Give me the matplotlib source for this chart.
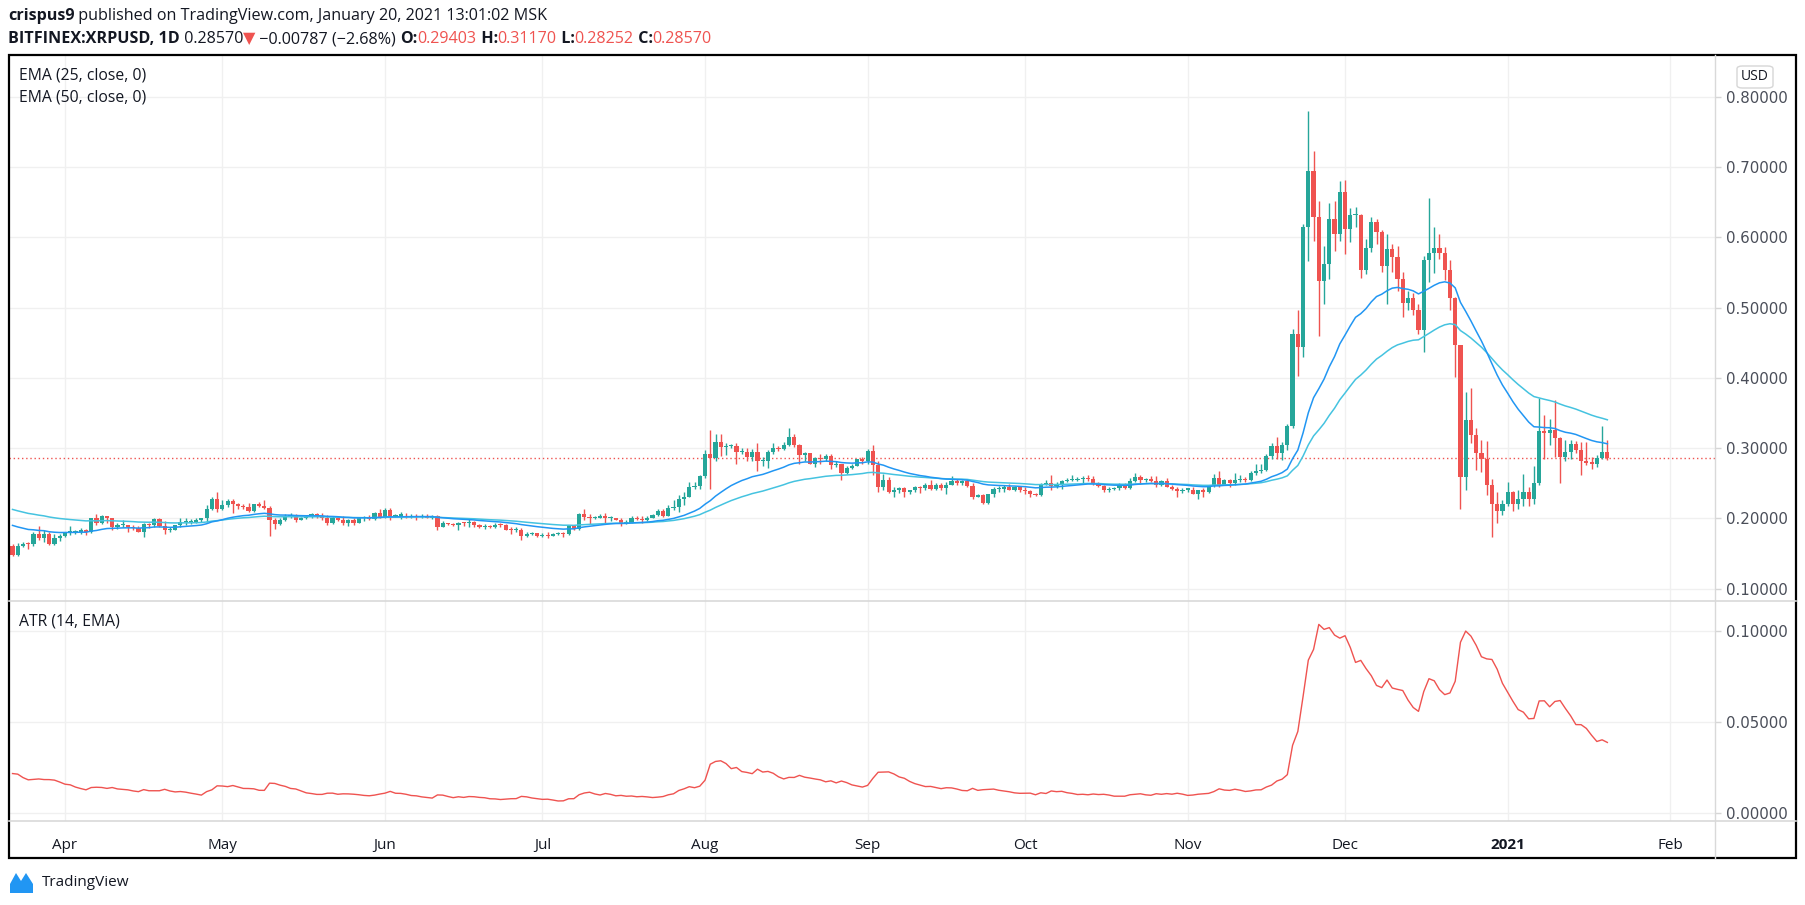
import numpy as np
import pandas as pd
import matplotlib
matplotlib.use('Agg')
import matplotlib.pyplot as plt
import matplotlib.dates as mdates
from matplotlib.patches import Rectangle, FancyBboxPatch, Polygon
from matplotlib.lines import Line2D

# BITFINEX:XRPUSD daily candles, 22 Mar 2020 - 20 Jan 2021
first_open = 0.160

close_mar = [0.148, 0.161, 0.164, 0.163, 0.178, 0.172, 0.178, 0.163, 0.172, 0.175]
high_mar = [0.164, 0.165, 0.166, 0.167, 0.180, 0.189, 0.183, 0.180, 0.178, 0.178]
low_mar = [0.147, 0.146, 0.159, 0.157, 0.160, 0.169, 0.167, 0.162, 0.162, 0.168]

close_apr = [0.180, 0.181, 0.181, 0.184, 0.180, 0.200, 0.194, 0.203, 0.200, 0.188,
             0.190, 0.191, 0.188, 0.186, 0.181, 0.192, 0.190, 0.199, 0.189, 0.183,
             0.184, 0.190, 0.195, 0.195, 0.195, 0.198, 0.200, 0.214, 0.227, 0.213]
high_apr = [0.181, 0.189, 0.184, 0.186, 0.185, 0.201, 0.206, 0.205, 0.204, 0.200,
            0.193, 0.198, 0.191, 0.191, 0.189, 0.194, 0.194, 0.200, 0.200, 0.196,
            0.187, 0.191, 0.201, 0.200, 0.199, 0.200, 0.201, 0.219, 0.231, 0.238]
low_apr = [0.173, 0.176, 0.178, 0.178, 0.177, 0.179, 0.191, 0.192, 0.194, 0.183,
           0.185, 0.187, 0.180, 0.183, 0.180, 0.174, 0.186, 0.188, 0.188, 0.178,
           0.181, 0.183, 0.188, 0.191, 0.192, 0.193, 0.195, 0.195, 0.212, 0.209]

close_may = [0.219, 0.224, 0.220, 0.217, 0.216, 0.211, 0.220, 0.218, 0.215, 0.197,
             0.192, 0.198, 0.203, 0.204, 0.198, 0.201, 0.202, 0.206, 0.203, 0.201,
             0.194, 0.201, 0.198, 0.193, 0.198, 0.194, 0.200, 0.202, 0.199, 0.207, 0.202]
high_may = [0.226, 0.228, 0.227, 0.222, 0.221, 0.222, 0.221, 0.223, 0.226, 0.217,
            0.200, 0.200, 0.206, 0.207, 0.206, 0.202, 0.203, 0.208, 0.208, 0.207,
            0.205, 0.203, 0.202, 0.203, 0.199, 0.200, 0.201, 0.203, 0.205, 0.209, 0.214]
low_may = [0.212, 0.216, 0.208, 0.213, 0.213, 0.209, 0.209, 0.216, 0.214, 0.175,
           0.185, 0.191, 0.196, 0.201, 0.195, 0.197, 0.199, 0.200, 0.201, 0.197,
           0.190, 0.192, 0.196, 0.191, 0.189, 0.191, 0.193, 0.196, 0.197, 0.197, 0.200]

close_jun = [0.212, 0.203, 0.204, 0.204, 0.202, 0.204, 0.202, 0.204, 0.201, 0.204,
             0.188, 0.194, 0.192, 0.191, 0.194, 0.193, 0.195, 0.191, 0.187, 0.189,
             0.187, 0.191, 0.190, 0.184, 0.183, 0.184, 0.175, 0.178, 0.179, 0.175]
high_jun = [0.215, 0.215, 0.206, 0.209, 0.207, 0.206, 0.206, 0.206, 0.206, 0.205,
            0.205, 0.196, 0.194, 0.193, 0.195, 0.195, 0.200, 0.196, 0.192, 0.192,
            0.190, 0.193, 0.193, 0.192, 0.187, 0.188, 0.186, 0.181, 0.180, 0.179]
low_jun = [0.201, 0.197, 0.202, 0.199, 0.200, 0.201, 0.198, 0.201, 0.200, 0.199,
           0.184, 0.187, 0.190, 0.189, 0.183, 0.189, 0.188, 0.188, 0.186, 0.185,
           0.186, 0.186, 0.188, 0.183, 0.178, 0.180, 0.169, 0.174, 0.176, 0.174]

close_jul = [0.177, 0.175, 0.178, 0.179, 0.178, 0.190, 0.185, 0.206, 0.202, 0.200,
             0.201, 0.203, 0.200, 0.201, 0.198, 0.194, 0.194, 0.201, 0.199, 0.197,
             0.201, 0.205, 0.211, 0.204, 0.215, 0.216, 0.227, 0.231, 0.245, 0.246, 0.260]
high_jul = [0.179, 0.180, 0.179, 0.180, 0.181, 0.191, 0.191, 0.208, 0.214, 0.206,
            0.203, 0.206, 0.208, 0.203, 0.201, 0.200, 0.198, 0.203, 0.203, 0.203,
            0.203, 0.206, 0.213, 0.213, 0.219, 0.226, 0.233, 0.238, 0.252, 0.252, 0.262]
low_jul = [0.174, 0.172, 0.175, 0.177, 0.174, 0.176, 0.183, 0.184, 0.197, 0.192,
           0.199, 0.200, 0.192, 0.196, 0.197, 0.189, 0.192, 0.193, 0.197, 0.193,
           0.196, 0.200, 0.203, 0.202, 0.203, 0.212, 0.209, 0.219, 0.230, 0.242, 0.242]

close_aug = [0.291, 0.286, 0.309, 0.301, 0.303, 0.303, 0.294, 0.295, 0.287, 0.294,
             0.281, 0.282, 0.295, 0.300, 0.299, 0.305, 0.316, 0.304, 0.290, 0.293,
             0.278, 0.286, 0.284, 0.289, 0.276, 0.277, 0.264, 0.272, 0.275, 0.284, 0.281]
high_aug = [0.297, 0.326, 0.320, 0.320, 0.307, 0.306, 0.307, 0.300, 0.300, 0.299,
            0.307, 0.287, 0.297, 0.307, 0.303, 0.308, 0.328, 0.320, 0.306, 0.295,
            0.293, 0.288, 0.292, 0.292, 0.291, 0.282, 0.278, 0.274, 0.277, 0.285, 0.287]
low_aug = [0.258, 0.242, 0.282, 0.289, 0.290, 0.300, 0.278, 0.292, 0.281, 0.282,
           0.267, 0.275, 0.272, 0.292, 0.296, 0.297, 0.303, 0.301, 0.278, 0.282,
           0.277, 0.273, 0.277, 0.282, 0.270, 0.273, 0.254, 0.263, 0.270, 0.274, 0.277]

close_sep = [0.296, 0.276, 0.245, 0.255, 0.238, 0.241, 0.243, 0.238, 0.240, 0.244,
             0.243, 0.248, 0.242, 0.247, 0.243, 0.248, 0.253, 0.250, 0.253, 0.246,
             0.230, 0.233, 0.222, 0.234, 0.242, 0.242, 0.244, 0.241, 0.244, 0.241]
high_sep = [0.299, 0.305, 0.282, 0.263, 0.259, 0.245, 0.245, 0.245, 0.241, 0.246,
            0.246, 0.250, 0.255, 0.250, 0.250, 0.252, 0.260, 0.256, 0.255, 0.255,
            0.250, 0.235, 0.235, 0.235, 0.245, 0.246, 0.247, 0.249, 0.246, 0.246]
low_sep = [0.278, 0.261, 0.238, 0.240, 0.236, 0.231, 0.236, 0.231, 0.235, 0.238,
           0.236, 0.241, 0.240, 0.240, 0.241, 0.235, 0.247, 0.247, 0.248, 0.244,
           0.228, 0.230, 0.220, 0.221, 0.231, 0.238, 0.238, 0.240, 0.239, 0.237]

close_oct = [0.239, 0.235, 0.233, 0.248, 0.251, 0.246, 0.249, 0.253, 0.254, 0.255,
             0.256, 0.258, 0.256, 0.249, 0.246, 0.240, 0.242, 0.243, 0.247, 0.243,
             0.253, 0.259, 0.255, 0.256, 0.253, 0.247, 0.253, 0.245, 0.242, 0.239, 0.241]
high_oct = [0.245, 0.241, 0.236, 0.250, 0.255, 0.261, 0.252, 0.255, 0.258, 0.261,
            0.259, 0.260, 0.261, 0.260, 0.252, 0.248, 0.244, 0.245, 0.250, 0.251,
            0.257, 0.264, 0.261, 0.258, 0.260, 0.260, 0.254, 0.257, 0.248, 0.245, 0.243]
low_oct = [0.234, 0.230, 0.232, 0.232, 0.247, 0.240, 0.243, 0.242, 0.252, 0.253,
           0.253, 0.249, 0.253, 0.247, 0.244, 0.237, 0.237, 0.240, 0.241, 0.242,
           0.242, 0.252, 0.249, 0.252, 0.252, 0.244, 0.246, 0.244, 0.240, 0.231, 0.236]

close_nov = [0.241, 0.235, 0.240, 0.238, 0.247, 0.258, 0.248, 0.254, 0.250, 0.254,
             0.256, 0.255, 0.265, 0.268, 0.269, 0.289, 0.303, 0.293, 0.304, 0.331,
             0.462, 0.444, 0.615, 0.694, 0.629, 0.538, 0.562, 0.626, 0.605, 0.664]
high_nov = [0.243, 0.245, 0.241, 0.243, 0.248, 0.263, 0.268, 0.256, 0.256, 0.265,
            0.261, 0.259, 0.267, 0.277, 0.277, 0.292, 0.307, 0.316, 0.308, 0.334,
            0.470, 0.496, 0.619, 0.780, 0.723, 0.652, 0.588, 0.649, 0.652, 0.680]
low_nov = [0.238, 0.234, 0.228, 0.231, 0.236, 0.245, 0.245, 0.248, 0.245, 0.248,
           0.252, 0.252, 0.253, 0.261, 0.264, 0.268, 0.285, 0.284, 0.283, 0.297,
           0.328, 0.402, 0.430, 0.566, 0.595, 0.459, 0.505, 0.541, 0.581, 0.595]

close_dec = [0.612, 0.631, 0.632, 0.554, 0.585, 0.622, 0.607, 0.559, 0.583, 0.572,
             0.541, 0.507, 0.514, 0.496, 0.468, 0.568, 0.577, 0.584, 0.577, 0.554,
             0.514, 0.446, 0.259, 0.340, 0.318, 0.293, 0.284, 0.247, 0.221, 0.210, 0.221]
high_dec = [0.682, 0.642, 0.643, 0.633, 0.598, 0.629, 0.626, 0.611, 0.605, 0.590,
            0.587, 0.550, 0.524, 0.520, 0.505, 0.574, 0.656, 0.614, 0.605, 0.586,
            0.568, 0.515, 0.446, 0.380, 0.386, 0.328, 0.311, 0.310, 0.256, 0.238, 0.226]
low_dec = [0.576, 0.593, 0.614, 0.542, 0.548, 0.579, 0.591, 0.550, 0.505, 0.550,
           0.524, 0.487, 0.496, 0.489, 0.463, 0.437, 0.536, 0.549, 0.569, 0.539,
           0.496, 0.401, 0.213, 0.240, 0.307, 0.269, 0.266, 0.233, 0.174, 0.194, 0.205]

close_jan = [0.238, 0.221, 0.227, 0.237, 0.227, 0.250, 0.324, 0.321, 0.326, 0.315,
             0.288, 0.295, 0.306, 0.297, 0.281, 0.279, 0.278, 0.286, 0.29403, 0.2857]
high_jan = [0.252, 0.239, 0.241, 0.263, 0.245, 0.274, 0.371, 0.347, 0.341, 0.368,
            0.316, 0.311, 0.311, 0.310, 0.309, 0.309, 0.288, 0.290, 0.331, 0.3117]
low_jan = [0.218, 0.210, 0.214, 0.217, 0.217, 0.221, 0.247, 0.285, 0.304, 0.288,
           0.251, 0.282, 0.284, 0.293, 0.261, 0.276, 0.270, 0.273, 0.285, 0.2825]

# indicator values on the first visible day (history before it is off-chart)
ema25_start = 0.190
ema50_start = 0.2127
atr_start = 0.0215

month_ticks = ['2020-04-01', '2020-05-01', '2020-06-01', '2020-07-01', '2020-08-01', '2020-09-01',
               '2020-10-01', '2020-11-01', '2020-12-01', '2021-01-01', '2021-02-01']
month_labels = ['Apr', 'May', 'Jun', 'Jul', 'Aug', 'Sep', 'Oct', 'Nov', 'Dec', '2021', 'Feb']
price_ticks = [0.1, 0.2, 0.3, 0.4, 0.5, 0.6, 0.7, 0.8]
atr_ticks = [0.0, 0.05, 0.10]
last_close = 0.28570

# ---- assemble
close = np.array(close_mar + close_apr + close_may + close_jun + close_jul + close_aug +
                 close_sep + close_oct + close_nov + close_dec + close_jan)
high = np.array(high_mar + high_apr + high_may + high_jun + high_jul + high_aug +
                high_sep + high_oct + high_nov + high_dec + high_jan)
low = np.array(low_mar + low_apr + low_may + low_jun + low_jul + low_aug +
               low_sep + low_oct + low_nov + low_dec + low_jan)
opn = np.concatenate([[first_open], close[:-1]])
high = np.maximum(high, np.maximum(opn, close))
low = np.minimum(low, np.minimum(opn, close))

dates = pd.date_range('2020-03-22', periods=len(close), freq='D')
x = mdates.date2num(dates.to_pydatetime())

def ema(values, length, start):
    a = 2.0 / (length + 1)
    out = [start]
    for v in values[1:]:
        out.append(out[-1] + a * (v - out[-1]))
    return np.array(out)

ema25 = ema(close, 25, ema25_start)
ema50 = ema(close, 50, ema50_start)
prev_close = np.concatenate([[first_open], close[:-1]])
tr = np.maximum(high - low, np.maximum(abs(high - prev_close), abs(low - prev_close)))
atr = ema(tr, 14, atr_start)

# ---- figure geometry (pixels)
W, H = 1805, 905
L, R, SEP = 9, 1796, 1715
TOP, MID, BOT, FRAME_BOT = 55, 601, 821, 858

def fx(px):
    return px / W

def fy(py):
    return 1 - py / H

UP, DOWN = '#26a69a', '#ef5350'
GRID = '#f0f0f0'
TXT = '#131722'
LBL = '#4a4e59'

fig = plt.figure(figsize=(W / 100, H / 100), dpi=100)
fig.patch.set_facecolor('white')

ax = fig.add_axes([fx(L), fy(MID), fx(SEP) - fx(L), fy(TOP) - fy(MID)])
ax2 = fig.add_axes([fx(L), fy(BOT), fx(SEP) - fx(L), fy(MID) - fy(BOT)], sharex=ax)

apr1 = mdates.date2num(pd.Timestamp('2020-04-01'))
ax.set_xlim(apr1 - 10.67, apr1 + 314.52)
ax.set_ylim(0.0824, 0.8593)
ax2.set_ylim(-0.0046, 0.1164)

tick_x = mdates.date2num(pd.to_datetime(month_ticks).to_pydatetime())
for a in (ax, ax2):
    for s in a.spines.values():
        s.set_visible(False)
    for t in tick_x:
        a.axvline(t, color=GRID, lw=1, zorder=0)
    a.yaxis.tick_right()
    a.tick_params(axis='y', length=4, width=1, color='#d6d6d6', pad=4,
                  labelsize=10.8, labelcolor=LBL)
    a.set_facecolor('white')

for p in price_ticks:
    ax.axhline(p, color=GRID, lw=1, zorder=0)
for p in atr_ticks:
    ax2.axhline(p, color=GRID, lw=1, zorder=0)

ax.set_yticks(price_ticks)
ax.set_yticklabels([f'{p:.5f}' for p in price_ticks])
ax2.set_yticks(atr_ticks)
ax2.set_yticklabels([f'{p:.5f}' for p in atr_ticks])
ax.tick_params(axis='x', bottom=False, labelbottom=False)
ax2.set_xticks(tick_x)
ax2.set_xticklabels(month_labels)
ax2.tick_params(axis='x', length=0, pad=12, labelsize=11, labelcolor=TXT)
for lab in ax2.get_xticklabels():
    lab.set_family('Open Sans')
    if lab.get_text() == '2021':
        lab.set_fontweight('bold')

# candles
up = close >= opn
cols = np.where(up, UP, DOWN)
ax.vlines(x, low, high, colors=cols, lw=1.0, zorder=2)
body_lo = np.minimum(opn, close)
body_h = np.maximum(np.abs(close - opn), 0.0015)
ax.bar(x, body_h, bottom=body_lo, width=0.8, color=cols, linewidth=0, zorder=3)

ax.plot(x, ema50, color='#45c3e0', lw=1.1, zorder=4)
ax.plot(x, ema25, color='#2196f3', lw=1.1, zorder=4)
ax.axhline(last_close, color=DOWN, lw=1, ls=(0, (1, 2)), zorder=1)

ax2.plot(x, atr, color=DOWN, lw=1.0, zorder=3)

# legends inside panes
ax.text(fx(19), fy(76), 'EMA (25, close, 0)', transform=fig.transFigure, fontsize=11.3,
        family='Open Sans', color=TXT, va='center')
ax.text(fx(19), fy(98), 'EMA (50, close, 0)', transform=fig.transFigure, fontsize=11.3,
        family='Open Sans', color=TXT, va='center')
ax2.text(fx(19), fy(621), 'ATR (14, EMA)', transform=fig.transFigure, fontsize=11.3,
         family='Open Sans', color=TXT, va='center')

# frame and pane separators
fig.add_artist(Line2D([fx(SEP), fx(SEP)], [fy(TOP), fy(FRAME_BOT)], color='#d9d9d9', lw=1))
fig.add_artist(Line2D([fx(L), fx(R)], [fy(MID), fy(MID)], color='#d9d9d9', lw=1.2))
fig.add_artist(Line2D([fx(L), fx(R)], [fy(BOT), fy(BOT)], color='#d9d9d9', lw=1.2))
fig.add_artist(Rectangle((fx(L), fy(FRAME_BOT)), fx(R) - fx(L), fy(TOP) - fy(FRAME_BOT),
                         transform=fig.transFigure, fill=False, edgecolor='black', lw=1.6))

# USD badge
fig.add_artist(FancyBboxPatch((fx(1737), fy(88)), fx(36), 22 / H,
                              boxstyle='round,pad=0,rounding_size=0.003',
                              transform=fig.transFigure, facecolor='white',
                              edgecolor='#d6d6d6', lw=1))
fig.text(fx(1755), fy(77), 'USD', ha='center', va='center', fontsize=10,
         family='Open Sans', color=TXT)

# header lines
ov = fig.add_axes([0, 0, 1, 1])
ov.axis('off')
ov.set_zorder(-1)

def header(parts, x0, y0):
    prev = None
    for text, weight, color in parts:
        kw = dict(fontsize=11.6, fontweight=weight, color=color, va='bottom', ha='left',
                  family=['Open Sans', 'DejaVu Sans'], annotation_clip=False)
        if prev is None:
            prev = ov.annotate(text, xy=(fx(x0), fy(y0)), xycoords='figure fraction', **kw)
        else:
            prev = ov.annotate(text, xy=(1, 0), xycoords=prev, **kw)

header([('crispus9', 'bold', TXT),
        (' published on TradingView.com, January 20, 2021 13:01:02 MSK', 'normal', TXT)], 8, 24)
header([('BITFINEX:XRPUSD, 1D', 'bold', TXT), (' 0.28570', 'normal', TXT),
        ('\u25bc', 'normal', DOWN), (' \u22120.00787 (\u22122.68%) ', 'normal', TXT),
        ('O:', 'bold', TXT), ('0.29403', 'normal', DOWN),
        (' H:', 'bold', TXT), ('0.31170', 'normal', DOWN),
        (' L:', 'bold', TXT), ('0.28252', 'normal', DOWN),
        (' C:', 'bold', TXT), ('0.28570', 'normal', DOWN)], 8, 47)

# TradingView logo
logo = [(10, 893), (10, 884), (16, 873), (21, 881), (26, 873), (33, 884), (33, 893)]
fig.add_artist(Polygon([(fx(a), fy(b)) for a, b in logo], closed=True,
                       transform=fig.transFigure, facecolor='#2196f3', edgecolor='none'))
fig.text(fx(42), fy(882), 'TradingView', fontsize=11, family='Open Sans', color='#131722',
         va='center', ha='left')

fig.savefig('out.png', dpi=100, facecolor='white')
